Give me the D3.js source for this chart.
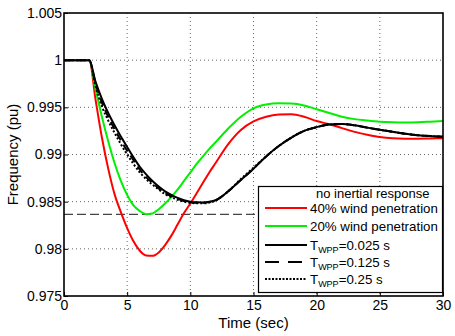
<!DOCTYPE html>
<html>
<head>
<meta charset="utf-8">
<script src="https://cdn.jsdelivr.net/npm/d3@7"></script>
<style>
html,body{margin:0;padding:0;background:#fff;}
svg{display:block;font-family:"Liberation Sans",Arial,sans-serif;}
</style>
</head>
<body>
<svg id="chart" width="455" height="336"></svg>
<script>
// ---- data ----
const time = [0,2,2.5,3,3.5,4,4.5,5,5.5,6,6.5,7,7.5,8,8.5,9,9.5,10,10.5,11,11.5,12,13,14,15,16,17,18,19,20,21,22,23,24,25,26,27,28,29,30];
const wind40 = [1,1,0.9958,0.9918,0.9885,0.9858,0.9839,0.9822,0.9808,0.9798,0.9793,0.97926,0.97962,0.9804,0.9814,0.9826,0.9838,0.9848,0.9859,0.9870,0.9881,0.9891,0.9911,0.9926,0.9935,0.9940,0.99423,0.99426,0.9940,0.99355,0.9932,0.9928,0.9924,0.9921,0.99185,0.99172,0.99168,0.99168,0.9917,0.99172];
const wind20 = [1,1,0.9969,0.9940,0.9914,0.9891,0.9872,0.9857,0.9846,0.9840,0.98367,0.98375,0.9842,0.9848,0.9855,0.9863,0.9872,0.9881,0.9890,0.9898,0.9906,0.9913,0.99275,0.9940,0.9949,0.9953,0.99543,0.9954,0.9952,0.9948,0.9944,0.9940,0.99375,0.9936,0.99348,0.99342,0.9934,0.99342,0.99348,0.99355];
const twpp025 = [1,1,0.9977,0.9959,0.9944,0.9931,0.9919,0.9908,0.9897,0.9887,0.9879,0.9872,0.9866,0.9861,0.98572,0.9854,0.98515,0.98500,0.98493,0.98492,0.98498,0.98515,0.9861,0.9873,0.9885,0.9898,0.9909,0.9918,0.9925,0.9929,0.99318,0.99323,0.9931,0.99285,0.99262,0.9924,0.9922,0.99205,0.99195,0.99188];
const twpp0125 = [1,1,0.9975,0.9955,0.9940,0.9927,0.9915,0.9904,0.9894,0.9884,0.9876,0.9870,0.9864,0.9859,0.98558,0.9853,0.98508,0.98494,0.98488,0.98488,0.98495,0.98515,0.9861,0.9873,0.9885,0.9898,0.9909,0.9918,0.9925,0.9929,0.99318,0.99323,0.9931,0.99285,0.99262,0.9924,0.9922,0.99205,0.99195,0.99188];
const twpp025b = [1,1,0.9972,0.9951,0.9936,0.9923,0.9911,0.9900,0.9890,0.9881,0.9874,0.9868,0.9863,0.9858,0.98548,0.9852,0.98500,0.98487,0.98482,0.98482,0.98490,0.98512,0.9861,0.9874,0.9886,0.9898,0.9909,0.9918,0.9925,0.9929,0.99318,0.99323,0.9931,0.99285,0.99262,0.9924,0.9922,0.99205,0.99195,0.99188];
const noInertiaLevel = 0.98365;
const xTicks = [0,5,10,15,20,25,30];
const yTicks = [0.975,0.98,0.985,0.99,0.995,1,1.005];
const yTickLabels = ["0.975","0.98","0.985","0.99","0.995","1","1.005"];
const xLabel = "Time (sec)";
const yLabel = "Frequency (pu)";

// ---- layout ----
const svg = d3.select("#chart");
const L = 64, R = 443, T = 13, B = 296;
const x = d3.scaleLinear().domain([0,30]).range([L,R]);
const y = d3.scaleLinear().domain([0.975,1.005]).range([B,T]);

// grid
const grid = svg.append("g");
grid.selectAll("line.gx").data(xTicks.slice(1,-1)).enter().append("line")
  .attr("x1",d=>x(d)).attr("x2",d=>x(d)).attr("y1",T).attr("y2",B)
  .attr("stroke","#666").attr("stroke-width",1).attr("stroke-dasharray","1,3");
grid.selectAll("line.gy").data(yTicks.slice(1,-1)).enter().append("line")
  .attr("x1",L).attr("x2",R).attr("y1",d=>y(d)).attr("y2",d=>y(d))
  .attr("stroke","#666").attr("stroke-width",1).attr("stroke-dasharray","1,3");

// reference level (no inertial response)
svg.append("line").attr("x1",x(0)).attr("x2",x(30))
  .attr("y1",y(noInertiaLevel)).attr("y2",y(noInertiaLevel))
  .attr("stroke","#444").attr("stroke-width",1.3).attr("stroke-dasharray","9,4");

const line = d3.line().x((d,i)=>x(time[i])).y(d=>y(d)).curve(d3.curveMonotoneX);
const series = [
  {v:wind40, c:"#ff0000", dash:null, w:2},
  {v:wind20, c:"#00f000", dash:null, w:2},
  {v:twpp025b, c:"#000", dash:"2,2", w:2},
  {v:twpp0125, c:"#000", dash:"8,5", w:2},
  {v:twpp025, c:"#000", dash:null, w:2}
];
series.forEach(s=>{
  svg.append("path").attr("d",line(s.v)).attr("fill","none")
    .attr("stroke",s.c).attr("stroke-width",s.w)
    .attr("stroke-dasharray",s.dash);
});

// axes
const xAxis = d3.axisBottom(x).tickValues(xTicks).tickSize(-4).tickPadding(4).tickFormat(d3.format("d"));
const yAxis = d3.axisLeft(y).tickValues(yTicks).tickSize(-4).tickPadding(2).tickFormat((d,i)=>yTickLabels[i]);
const gx = svg.append("g").attr("transform",`translate(0,${B})`).call(xAxis);
const gy = svg.append("g").attr("transform",`translate(${L},0)`).call(yAxis);
[gx,gy].forEach(g=>{
  g.select(".domain").remove();
  g.selectAll(".tick line").attr("stroke","#000");
  g.selectAll(".tick text").attr("font-size",14).attr("fill","#000")
    .attr("font-family","'Liberation Sans',Arial,sans-serif");
});
// box
svg.append("rect").attr("x",L).attr("y",T).attr("width",R-L).attr("height",B-T)
  .attr("fill","none").attr("stroke","#000").attr("stroke-width",1.6);

// axis labels
svg.append("text").attr("x",(L+R)/2).attr("y",328).attr("text-anchor","middle")
  .attr("font-size",15).text(xLabel);
svg.append("text").attr("transform",`translate(18,${(T+B)/2}) rotate(-90)`)
  .attr("text-anchor","middle").attr("font-size",15).text(yLabel);

// legend
const lg = svg.append("g");
lg.append("rect").attr("x",258.5).attr("y",186.5).attr("width",184).attr("height",106)
  .attr("fill","#fff").attr("stroke","#000").attr("stroke-width",1.2);
lg.append("text").attr("x",316).attr("y",197.5).attr("font-size",13).text("no inertial response");
const legendItems = [
  {c:"#ff0000", dash:null, label:"40% wind penetration", sub:null},
  {c:"#00f000", dash:null, label:"20% wind penetration", sub:null},
  {c:"#000", dash:null, label:"=0.025 s", sub:"WPP"},
  {c:"#000", dash:"14,9", label:"=0.125 s", sub:"WPP"},
  {c:"#000", dash:"2,1.5", label:"=0.25 s", sub:"WPP"}
];
const ly = [208,226,245,262,279];
legendItems.forEach((it,i)=>{
  lg.append("line").attr("x1",265).attr("x2",307).attr("y1",ly[i]).attr("y2",ly[i])
    .attr("stroke",it.c).attr("stroke-width",2).attr("stroke-dasharray",it.dash);
  const t = lg.append("text").attr("x",310).attr("y",ly[i]+4.5).attr("font-size",13.3);
  if(it.sub){
    t.append("tspan").text("T");
    t.append("tspan").attr("font-size",9).attr("dy",3).text(it.sub);
    t.append("tspan").attr("dy",-3).text(it.label);
  } else {
    t.text(it.label);
  }
});
</script>
</body>
</html>
